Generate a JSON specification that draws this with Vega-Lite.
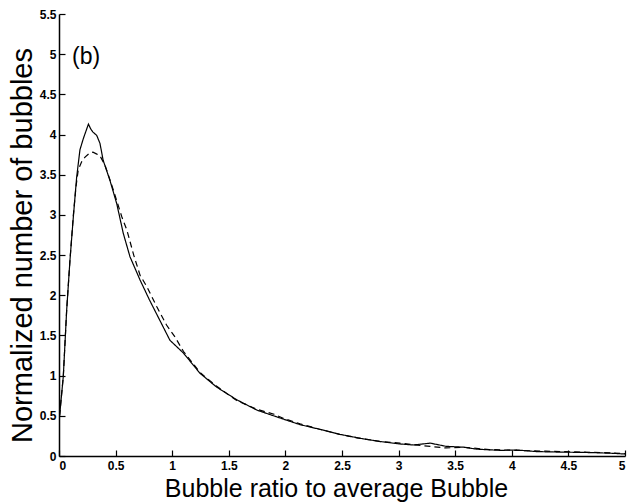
{
  "$schema": "https://vega.github.io/schema/vega-lite/v6.json",
  "autosize": "none",
  "width": 566,
  "height": 442,
  "padding": {"left": 59, "top": 14, "right": 16, "bottom": 46},
  "background": "white",
  "config": {
    "view": {"stroke": null},
    "font": "Liberation Sans",
    "axis": {
      "domainColor": "black",
      "domainWidth": 1.5,
      "tickColor": "black",
      "tickWidth": 1.2,
      "tickSize": -6,
      "labelPadding": 9,
      "labelFont": "Liberation Sans",
      "labelFontWeight": "bold",
      "labelFontSize": 12,
      "labelColor": "black",
      "titleFont": "Liberation Sans",
      "titleFontWeight": "normal",
      "titleColor": "black",
      "grid": false
    }
  },
  "datasets": {
    "curves": [
      {"ratio": 0.005, "count": 0.5, "run": "solid"},
      {"ratio": 0.038, "count": 0.99, "run": "solid"},
      {"ratio": 0.068, "count": 1.82, "run": "solid"},
      {"ratio": 0.097, "count": 2.44, "run": "solid"},
      {"ratio": 0.127, "count": 2.98, "run": "solid"},
      {"ratio": 0.156, "count": 3.47, "run": "solid"},
      {"ratio": 0.185, "count": 3.81, "run": "solid"},
      {"ratio": 0.215, "count": 3.95, "run": "solid"},
      {"ratio": 0.24, "count": 4.05, "run": "solid"},
      {"ratio": 0.26, "count": 4.13, "run": "solid"},
      {"ratio": 0.28, "count": 4.07, "run": "solid"},
      {"ratio": 0.3, "count": 4.03, "run": "solid"},
      {"ratio": 0.333, "count": 3.99, "run": "solid"},
      {"ratio": 0.362, "count": 3.89, "run": "solid"},
      {"ratio": 0.39, "count": 3.68, "run": "solid"},
      {"ratio": 0.45, "count": 3.43, "run": "solid"},
      {"ratio": 0.51, "count": 3.14, "run": "solid"},
      {"ratio": 0.568, "count": 2.77, "run": "solid"},
      {"ratio": 0.627, "count": 2.48, "run": "solid"},
      {"ratio": 0.716, "count": 2.19, "run": "solid"},
      {"ratio": 0.8, "count": 1.94, "run": "solid"},
      {"ratio": 0.89, "count": 1.69, "run": "solid"},
      {"ratio": 0.98, "count": 1.44, "run": "solid"},
      {"ratio": 1.1, "count": 1.28, "run": "solid"},
      {"ratio": 1.245, "count": 1.03, "run": "solid"},
      {"ratio": 1.39, "count": 0.86, "run": "solid"},
      {"ratio": 1.57, "count": 0.7, "run": "solid"},
      {"ratio": 1.75, "count": 0.57, "run": "solid"},
      {"ratio": 1.98, "count": 0.46, "run": "solid"},
      {"ratio": 2.13, "count": 0.39, "run": "solid"},
      {"ratio": 2.31, "count": 0.33, "run": "solid"},
      {"ratio": 2.48, "count": 0.27, "run": "solid"},
      {"ratio": 2.66, "count": 0.22, "run": "solid"},
      {"ratio": 2.84, "count": 0.18, "run": "solid"},
      {"ratio": 3.01, "count": 0.15, "run": "solid"},
      {"ratio": 3.13, "count": 0.137, "run": "solid"},
      {"ratio": 3.28, "count": 0.16, "run": "solid"},
      {"ratio": 3.42, "count": 0.12, "run": "solid"},
      {"ratio": 3.57, "count": 0.11, "run": "solid"},
      {"ratio": 3.69, "count": 0.085, "run": "solid"},
      {"ratio": 3.9, "count": 0.07, "run": "solid"},
      {"ratio": 4.04, "count": 0.075, "run": "solid"},
      {"ratio": 4.22, "count": 0.055, "run": "solid"},
      {"ratio": 4.43, "count": 0.048, "run": "solid"},
      {"ratio": 4.63, "count": 0.045, "run": "solid"},
      {"ratio": 4.87, "count": 0.035, "run": "solid"},
      {"ratio": 5.0, "count": 0.025, "run": "solid"},
      {"ratio": 0.005, "count": 0.5, "run": "dashed"},
      {"ratio": 0.038, "count": 0.99, "run": "dashed"},
      {"ratio": 0.068, "count": 1.82, "run": "dashed"},
      {"ratio": 0.097, "count": 2.44, "run": "dashed"},
      {"ratio": 0.127, "count": 3.0, "run": "dashed"},
      {"ratio": 0.15, "count": 3.35, "run": "dashed"},
      {"ratio": 0.17, "count": 3.56, "run": "dashed"},
      {"ratio": 0.2, "count": 3.66, "run": "dashed"},
      {"ratio": 0.23, "count": 3.72, "run": "dashed"},
      {"ratio": 0.27, "count": 3.77, "run": "dashed"},
      {"ratio": 0.3, "count": 3.78, "run": "dashed"},
      {"ratio": 0.33, "count": 3.76, "run": "dashed"},
      {"ratio": 0.36, "count": 3.74, "run": "dashed"},
      {"ratio": 0.406, "count": 3.62, "run": "dashed"},
      {"ratio": 0.44, "count": 3.48, "run": "dashed"},
      {"ratio": 0.48, "count": 3.31, "run": "dashed"},
      {"ratio": 0.554, "count": 2.98, "run": "dashed"},
      {"ratio": 0.6, "count": 2.81, "run": "dashed"},
      {"ratio": 0.66, "count": 2.5, "run": "dashed"},
      {"ratio": 0.716, "count": 2.25, "run": "dashed"},
      {"ratio": 0.775, "count": 2.11, "run": "dashed"},
      {"ratio": 0.863, "count": 1.86, "run": "dashed"},
      {"ratio": 0.95, "count": 1.63, "run": "dashed"},
      {"ratio": 1.025, "count": 1.48, "run": "dashed"},
      {"ratio": 1.1, "count": 1.3, "run": "dashed"},
      {"ratio": 1.245, "count": 1.04, "run": "dashed"},
      {"ratio": 1.39, "count": 0.87, "run": "dashed"},
      {"ratio": 1.57, "count": 0.69, "run": "dashed"},
      {"ratio": 1.75, "count": 0.58, "run": "dashed"},
      {"ratio": 1.9, "count": 0.52, "run": "dashed"},
      {"ratio": 1.98, "count": 0.47, "run": "dashed"},
      {"ratio": 2.13, "count": 0.4, "run": "dashed"},
      {"ratio": 2.31, "count": 0.33, "run": "dashed"},
      {"ratio": 2.48, "count": 0.27, "run": "dashed"},
      {"ratio": 2.66, "count": 0.22, "run": "dashed"},
      {"ratio": 2.84, "count": 0.18, "run": "dashed"},
      {"ratio": 3.01, "count": 0.16, "run": "dashed"},
      {"ratio": 3.2, "count": 0.13, "run": "dashed"},
      {"ratio": 3.42, "count": 0.1, "run": "dashed"},
      {"ratio": 3.57, "count": 0.11, "run": "dashed"},
      {"ratio": 3.8, "count": 0.08, "run": "dashed"},
      {"ratio": 4.04, "count": 0.07, "run": "dashed"},
      {"ratio": 4.3, "count": 0.06, "run": "dashed"},
      {"ratio": 4.6, "count": 0.05, "run": "dashed"},
      {"ratio": 4.87, "count": 0.04, "run": "dashed"},
      {"ratio": 5.0, "count": 0.03, "run": "dashed"}
    ]
  },
  "layer": [
    {
      "data": {"name": "curves"},
      "mark": {"type": "line", "color": "black", "strokeWidth": 1.2, "clip": true},
      "encoding": {
        "x": {
          "field": "ratio",
          "type": "quantitative",
          "scale": {"domain": [0, 5], "nice": false},
          "axis": {
            "title": "Bubble ratio to average Bubble",
            "values": [0, 0.5, 1, 1.5, 2, 2.5, 3, 3.5, 4, 4.5, 5],
            "labelExpr": "datum.value + ''",
            "labelPadding": 10,
            "titleFontSize": 25,
            "titlePadding": 0,
            "titleBaseline": "alphabetic",
            "titleX": 277,
            "titleY": 40
          }
        },
        "y": {
          "field": "count",
          "type": "quantitative",
          "scale": {"domain": [0, 5.5], "nice": false},
          "axis": {
            "title": "Normalized number of bubbles",
            "values": [0, 0.5, 1, 1.5, 2, 2.5, 3, 3.5, 4, 4.5, 5, 5.5],
            "labelExpr": "datum.value + ''",
            "titleFontSize": 29,
            "titleX": -22,
            "titleY": 231
          }
        },
        "detail": {"field": "run"},
        "strokeDash": {
          "field": "run",
          "type": "nominal",
          "scale": {"domain": ["solid", "dashed"], "range": [[1, 0], [6, 4]]},
          "legend": null
        }
      }
    },
    {
      "data": {"values": [{"panel": "(b)"}]},
      "mark": {"type": "text", "font": "Liberation Sans", "fontSize": 23, "align": "left", "baseline": "middle", "color": "black"},
      "encoding": {
        "text": {"field": "panel"},
        "x": {"datum": 0.115},
        "y": {"datum": 4.96}
      }
    }
  ]
}
